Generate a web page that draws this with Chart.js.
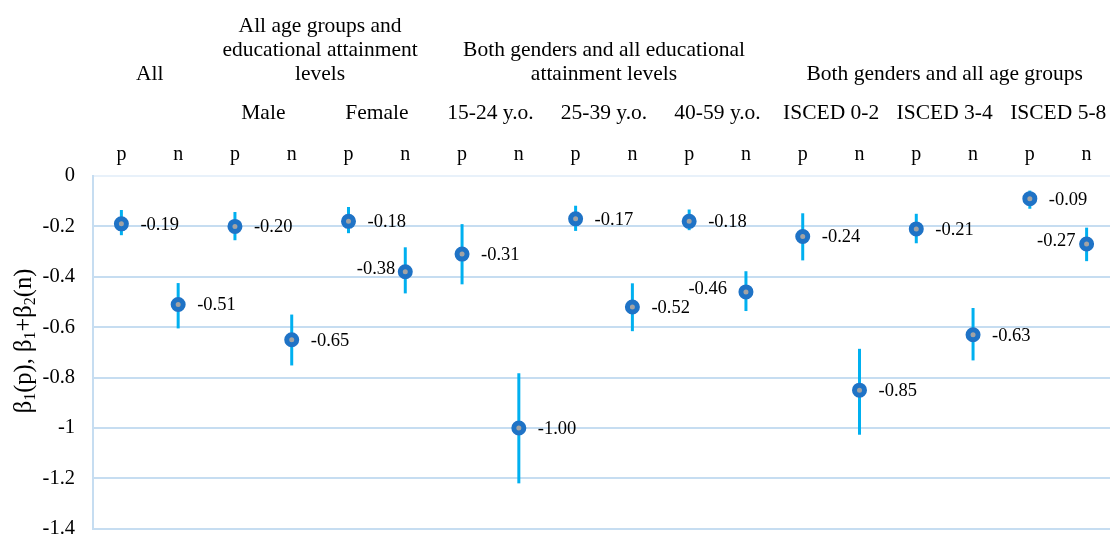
<!DOCTYPE html>
<html>
<head>
<meta charset="utf-8">
<script src="https://cdn.jsdelivr.net/npm/chart.js@4.4.0/dist/chart.umd.min.js"></script>
<style>
  html, body { margin: 0; padding: 0; background: #fff; overflow: hidden; }
  #wrap { position: absolute; left: 0; top: 0; width: 1125px; height: 559px; }
</style>
</head>
<body>
<div id="wrap"><canvas id="chart" width="1125" height="559"></canvas></div>
<script>
// group headers (top row) and how many categories each one spans
const groupTitles = [
    ['All'],
    ['All age groups and', 'educational attainment', 'levels'],
    ['Both genders and all educational', 'attainment levels'],
    ['Both genders and all age groups']
];
const groupSpans = [2, 4, 6, 6];

// second header row, each covers a p/n pair
const subgroups = ['', 'Male', 'Female', '15-24 y.o.', '25-39 y.o.', '40-59 y.o.', 'ISCED 0-2', 'ISCED 3-4', 'ISCED 5-8'];
const pairLabels = ['p', 'n'];
const categories = subgroups.flatMap(() => pairLabels);

// point estimates and interval ends
const estimates = [-0.19, -0.51, -0.20, -0.65, -0.18, -0.38, -0.31, -1.00, -0.17, -0.52, -0.18, -0.46, -0.24, -0.85, -0.21, -0.63, -0.09, -0.27];
const ciUpper   = [-0.135, -0.425, -0.143, -0.55, -0.123, -0.283, -0.191, -0.783, -0.118, -0.426, -0.133, -0.378, -0.148, -0.686, -0.15, -0.524, -0.058, -0.205];
const ciLower   = [-0.235, -0.605, -0.255, -0.752, -0.227, -0.466, -0.43, -1.22, -0.218, -0.616, -0.215, -0.536, -0.335, -1.027, -0.267, -0.732, -0.13, -0.338];

const yTicks = [0, -0.2, -0.4, -0.6, -0.8, -1, -1.2, -1.4];

// labels that sit to the left of their marker (index -> gap in px)
const leftLabels = { 5: 10, 11: 19, 17: 11 };

const SERIF = "'Liberation Serif', 'Times New Roman', serif";

const errorBars = {
    id: 'errorBars',
    beforeDatasetsDraw(chart) {
        const { ctx, scales: { x, y } } = chart;
        ctx.save();
        ctx.strokeStyle = '#00b0f0';
        ctx.lineWidth = 3;
        estimates.forEach((v, i) => {
            const px = x.getPixelForValue(i);
            ctx.beginPath();
            ctx.moveTo(px, y.getPixelForValue(ciUpper[i]));
            ctx.lineTo(px, y.getPixelForValue(ciLower[i]));
            ctx.stroke();
        });
        ctx.restore();
    }
};

const valueLabels = {
    id: 'valueLabels',
    afterDatasetsDraw(chart) {
        const { ctx } = chart;
        const meta = chart.getDatasetMeta(0);
        ctx.save();
        ctx.font = '18.5px ' + SERIF;
        ctx.fillStyle = '#000';
        ctx.textBaseline = 'middle';
        meta.data.forEach((pt, i) => {
            const text = estimates[i].toFixed(2);
            if (leftLabels[i] !== undefined) {
                ctx.textAlign = 'right';
                ctx.fillText(text, pt.x - leftLabels[i], pt.y - 3);
            } else {
                ctx.textAlign = 'left';
                ctx.fillText(text, pt.x + 19, pt.y + 1);
            }
        });
        ctx.restore();
    }
};

const headers = {
    id: 'headers',
    afterDraw(chart) {
        const { ctx, scales: { x } } = chart;
        ctx.save();
        ctx.font = '21.5px ' + SERIF;
        ctx.fillStyle = '#000';
        ctx.textAlign = 'center';
        ctx.textBaseline = 'middle';
        let start = 0;
        groupTitles.forEach((lines, g) => {
            const end = start + groupSpans[g] - 1;
            const cx = (x.getPixelForValue(start) + x.getPixelForValue(end)) / 2;
            lines.forEach((line, k) => {
                ctx.fillText(line, cx, 74 - (lines.length - 1 - k) * 24);
            });
            start = end + 1;
        });
        subgroups.forEach((name, s) => {
            if (!name) return;
            const cx = (x.getPixelForValue(s * 2) + x.getPixelForValue(s * 2 + 1)) / 2;
            ctx.fillText(name, cx, 113);
        });
        ctx.restore();
    }
};

// rotated y title with subscripts
const yTitle = {
    id: 'yTitle',
    afterDraw(chart) {
        const { ctx } = chart;
        const parts = [['β', 0], ['1', 1], ['(p), β', 0], ['1', 1], ['+β', 0], ['2', 1], ['(n)', 0]];
        const big = '24.5px ' + SERIF, small = '16px ' + SERIF;
        ctx.save();
        ctx.translate(25, 341);
        ctx.rotate(-Math.PI / 2);
        ctx.fillStyle = '#000';
        ctx.textBaseline = 'middle';
        ctx.textAlign = 'left';
        let total = 0;
        parts.forEach(([t, sub]) => { ctx.font = sub ? small : big; total += ctx.measureText(t).width; });
        let cur = -total / 2;
        parts.forEach(([t, sub]) => {
            ctx.font = sub ? small : big;
            ctx.fillText(t, cur, sub ? 6 : 0);
            cur += ctx.measureText(t).width;
        });
        ctx.restore();
    }
};

new Chart(document.getElementById('chart'), {
    type: 'line',
    data: {
        labels: categories,
        datasets: [{
            data: estimates,
            showLine: false,
            pointRadius: 5,
            pointBorderWidth: 5,
            pointBorderColor: '#1f73c6',
            pointBackgroundColor: '#a3a3a3'
        }]
    },
    options: {
        responsive: false,
        animation: false,
        events: [],
        layout: { padding: { left: 0, top: 0, right: 9, bottom: 2 } },
        plugins: { legend: { display: false }, tooltip: { enabled: false } },
        scales: {
            x: {
                position: 'top',
                offset: true,
                grid: { display: false, drawTicks: false },
                border: { display: false },
                ticks: { color: '#000', font: { family: SERIF, size: 20 }, padding: 9, maxRotation: 0, autoSkip: false },
                afterFit: (s) => { s.height = 176; }
            },
            y: {
                min: -1.4,
                max: 0,
                afterBuildTicks: (s) => { s.ticks = yTicks.map(v => ({ value: v })); },
                grid: {
                    drawTicks: false,
                    lineWidth: 2,
                    color: (c) => c.tick && c.tick.value === 0 ? '#e8f1fa' : '#c6ddf1'
                },
                border: { display: true, color: '#c6ddf1', width: 2 },
                ticks: {
                    color: '#000',
                    font: { family: SERIF, size: 20.5 },
                    padding: 18,
                    callback: (v) => String(+Number(v).toFixed(1))
                },
                afterFit: (s) => { s.width = 93; }
            }
        }
    },
    plugins: [errorBars, valueLabels, headers, yTitle]
});
</script>
</body>
</html>
